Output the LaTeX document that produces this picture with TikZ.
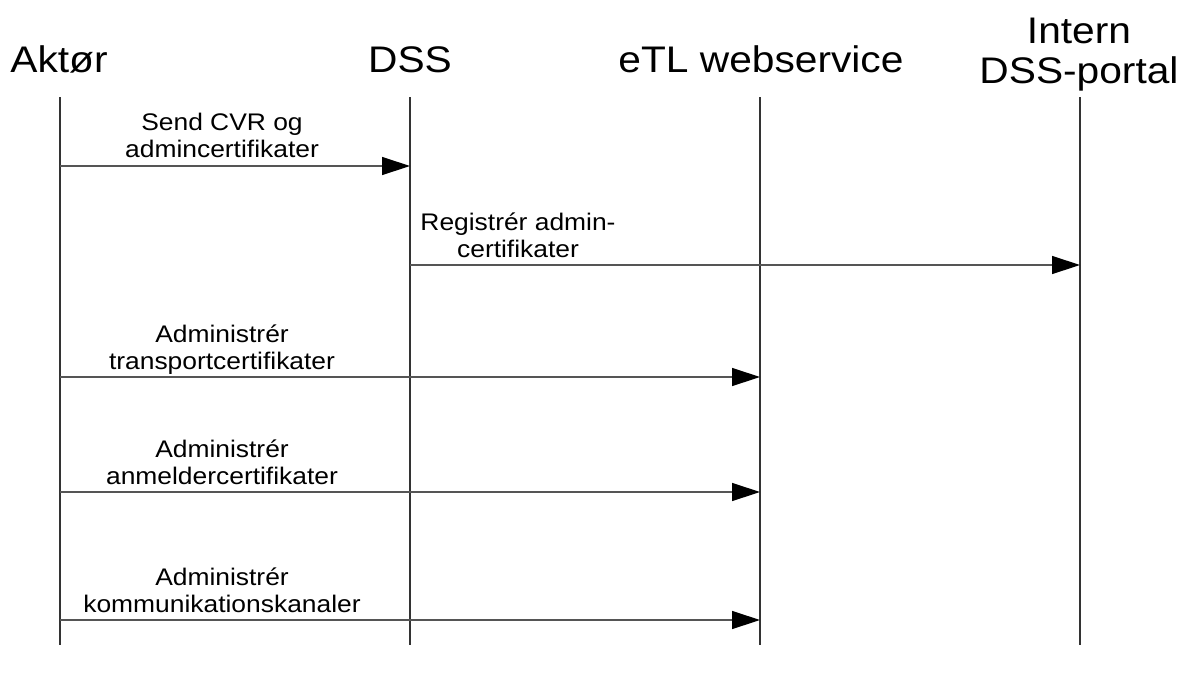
\documentclass[tikz,border=0pt]{standalone}
\usepackage{fontspec}
\setmainfont{Liberation Sans}[FakeStretch=1.1]
\usetikzlibrary{arrows.meta,positioning,calc}
\definecolor{lifeln}{HTML}{333333}
\definecolor{msgln}{HTML}{555555}

\begin{document}
\begin{tikzpicture}[x=1pt, y=-1pt,
  head/.style={inner sep=0pt, anchor=base, align=center, font=\fontsize{37}{40}\selectfont},
  life/.style={draw=lifeln, line width=1.2pt},
  msg/.style={draw=msgln, line width=1.3pt, -{Triangle[length=28pt, width=18pt, color=black]}},
  lbl/.style={inner sep=0pt, anchor=base, align=center, font=\fontsize{24}{27}\selectfont}
]
  \useasboundingbox (0,0) rectangle (1183,673);
  % participants
  \node[head] (aktor) at (59,72) {Aktør};
  \node[head] (dss) at (410,72) {DSS};
  \node[head] (etl) at (761,72) {eTL webservice};
  \node[head] (portal) at (1079,83) {Intern\\DSS-portal};
  % lifelines
  \foreach \n/\x in {aktor/60, dss/410, etl/760, portal/1080}{
    \coordinate (\n-top) at (\x,97);
    \coordinate (\n-bot) at (\x,645);
    \draw[life] (\n-top) -- (\n-bot);
  }
  % messages
  \foreach \i/\from/\to/\y in {1/aktor/dss/166, 2/dss/portal/265, 3/aktor/etl/377, 4/aktor/etl/492, 5/aktor/etl/620}{
    \coordinate (m\i-from) at (\from-top |- 0,\y);
    \coordinate (m\i-to) at (\to-top |- 0,\y);
    \draw[msg] (m\i-from) -- (m\i-to);
  }
  \node[lbl] (l1) at (222,157) {Send CVR og\\admincertifikater};
  \node[lbl] (l2) at (518,257) {Registrér admin-\\certifikater};
  \node[lbl] (l3) at (222,369) {Administrér\\transportcertifikater};
  \node[lbl] (l4) at (222,484) {Administrér\\anmeldercertifikater};
  \node[lbl] (l5) at (222,612) {Administrér\\kommunikationskanaler};
\end{tikzpicture}
\end{document}
